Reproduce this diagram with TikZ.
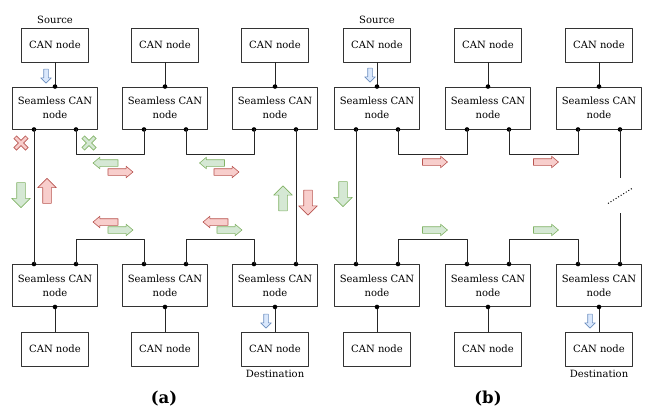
\documentclass[tikz,border=0pt]{standalone}
\usepackage{fontspec}
\setmainfont{DejaVu Serif}
\usetikzlibrary{shapes.arrows,positioning,calc}
\definecolor{gfill}{HTML}{D5E8D4}
\definecolor{gline}{HTML}{82B366}
\definecolor{rfill}{HTML}{F8CECC}
\definecolor{rline}{HTML}{B85450}
\definecolor{bfill}{HTML}{DAE8FC}
\definecolor{bline}{HTML}{6C8EBF}
\begin{document}
\begin{tikzpicture}[x=1pt,y=-1pt,line join=round,font=\fontsize{10}{14}\selectfont,
    can/.style={draw=black!80,line width=.9pt,minimum width=67pt,minimum height=34pt,inner sep=0pt},
    scan/.style={can,minimum width=85pt,minimum height=42pt,align=center},
    wire/.style={black!85,line width=.9pt},
    bigarr/.style={single arrow,inner sep=4pt,single arrow head extend=5pt,minimum height=25pt,minimum width=18pt,line width=.6pt},
    midarr/.style={single arrow,inner sep=3pt,single arrow head extend=2.5pt,minimum height=25pt,minimum width=11pt,single arrow tip angle=80,line width=.6pt},
    tinyarr/.style={single arrow,inner sep=2pt,single arrow head extend=3pt,minimum height=14pt,minimum width=10pt,line width=.6pt},
    grn/.style={draw=gline,fill=gfill},
    red/.style={draw=rline,fill=rfill},
    blu/.style={draw=bline,fill=bfill}]
\useasboundingbox (0,0) rectangle (651,412);
% boxes, columns 1-3 = (a), 4-6 = (b)
\foreach \n/\x in {1/55,2/165,3/275,4/377,5/488,6/599}{
    \node[can] (t\n) at (\x,45) {CAN node};
    \node[scan] (s\n) at (\x,108) {Seamless CAN\\node};
    \node[scan] (u\n) at (\x,285.5) {Seamless CAN\\node};
    \node[can] (d\n) at (\x,349) {CAN node};
    \coordinate (s\n-l) at ($(s\n.south)+(-21,0)$);
    \coordinate (s\n-r) at ($(s\n.south)+(21,0)$);
    \coordinate (u\n-l) at ($(u\n.north)+(-21,0)$);
    \coordinate (u\n-r) at ($(u\n.north)+(21,0)$);
    \draw[wire] (t\n) -- (s\n.north);
    \draw[wire] (u\n.south) -- (d\n);
    \fill (s\n.north) circle (2.3) (s\n-l) circle (2.3) (s\n-r) circle (2.3)
          (u\n.south) circle (2.3) (u\n-l) circle (2.3) (u\n-r) circle (2.3);
}
% buses
\foreach \a/\b in {1/2,2/3,4/5,5/6}{
    \draw[wire] (s\a-r) -- ++(0,25) -| (s\b-l);
    \draw[wire] (u\a-r) -- ++(0,-25) -| (u\b-l);
}
\draw[wire] (s1-l) -- (u1-l);
\draw[wire] (s3-r) -- (u3-r);
\draw[wire] (s4-l) -- (u4-l);
\coordinate (gapt) at ($(s6-r)+(0,49)$);
\coordinate (gapb) at ($(u6-r)+(0,-51)$);
\draw[wire] (s6-r) -- (gapt);
\draw[wire] (u6-r) -- (gapb);
\coordinate (brk1) at ($(gapt)+(-12,25)$);
\coordinate (brk2) at ($(gapt)+(12,10)$);
\draw[dotted,line width=1pt] (brk1) -- (brk2);

\node[above=0pt of t1] (src1) {Source};
\node[above=0pt of t4] (src2) {Source};
\node[below=0pt of d3] (dst1) {Destination};
\node[below=0pt of d6] (dst2) {Destination};
\node[font=\bfseries\fontsize{16.5}{20}\selectfont] (capa) at (164,399) {(a)};
\node[font=\bfseries\fontsize{16.5}{20}\selectfont] (capb) at (488,399) {(b)};

% (a) traffic
\node[tinyarr,blu,rotate=-90] (ina) at (46,75) {};
\node[tinyarr,blu,rotate=-90] (outa) at (266,320) {};
\node[bigarr,grn,rotate=-90] (ga1) at (21,193) {};
\node[bigarr,red,rotate=90] (ra1) at (47,193) {};
\node[bigarr,grn,rotate=90] (ga2) at (283,200.5) {};
\node[bigarr,red,rotate=-90] (ra2) at (308,200.5) {};
\node[midarr,grn,rotate=180] (ga3) at (107.5,163) {};
\node[midarr,red] (ra3) at (118.5,172) {};
\node[midarr,grn,rotate=180] (ga4) at (214,163) {};
\node[midarr,red] (ra4) at (224.5,172) {};
\node[midarr,red,rotate=180] (ra5) at (107.5,222) {};
\node[midarr,grn] (ga5) at (118.5,230) {};
\node[midarr,red,rotate=180] (ra6) at (217.5,222) {};
\node[midarr,grn] (ga6) at (227.5,230) {};
\coordinate (xr) at (21,143);
\coordinate (xg) at (89,143);
\draw[rline,line width=4.4pt] (xr)+(-6,-6) -- +(6,6) (xr)+(-6,6) -- +(6,-6);
\draw[rfill,line width=2.8pt] (xr)+(-5.4,-5.4) -- +(5.4,5.4) (xr)+(-5.4,5.4) -- +(5.4,-5.4);
\draw[gline,line width=4.4pt] (xg)+(-6,-6) -- +(6,6) (xg)+(-6,6) -- +(6,-6);
\draw[gfill,line width=2.8pt] (xg)+(-5.4,-5.4) -- +(5.4,5.4) (xg)+(-5.4,5.4) -- +(5.4,-5.4);

% (b) traffic
\node[tinyarr,blu,rotate=-90] (inb) at (370,74) {};
\node[tinyarr,blu,rotate=-90] (outb) at (590,320) {};
\node[bigarr,grn,rotate=-90] (gb1) at (343,192) {};
\node[midarr,red] (rb1) at (433,162) {};
\node[midarr,red] (rb2) at (544,162) {};
\node[midarr,grn] (gb2) at (433,230) {};
\node[midarr,grn] (gb3) at (544,230) {};
\end{tikzpicture}
\end{document}
